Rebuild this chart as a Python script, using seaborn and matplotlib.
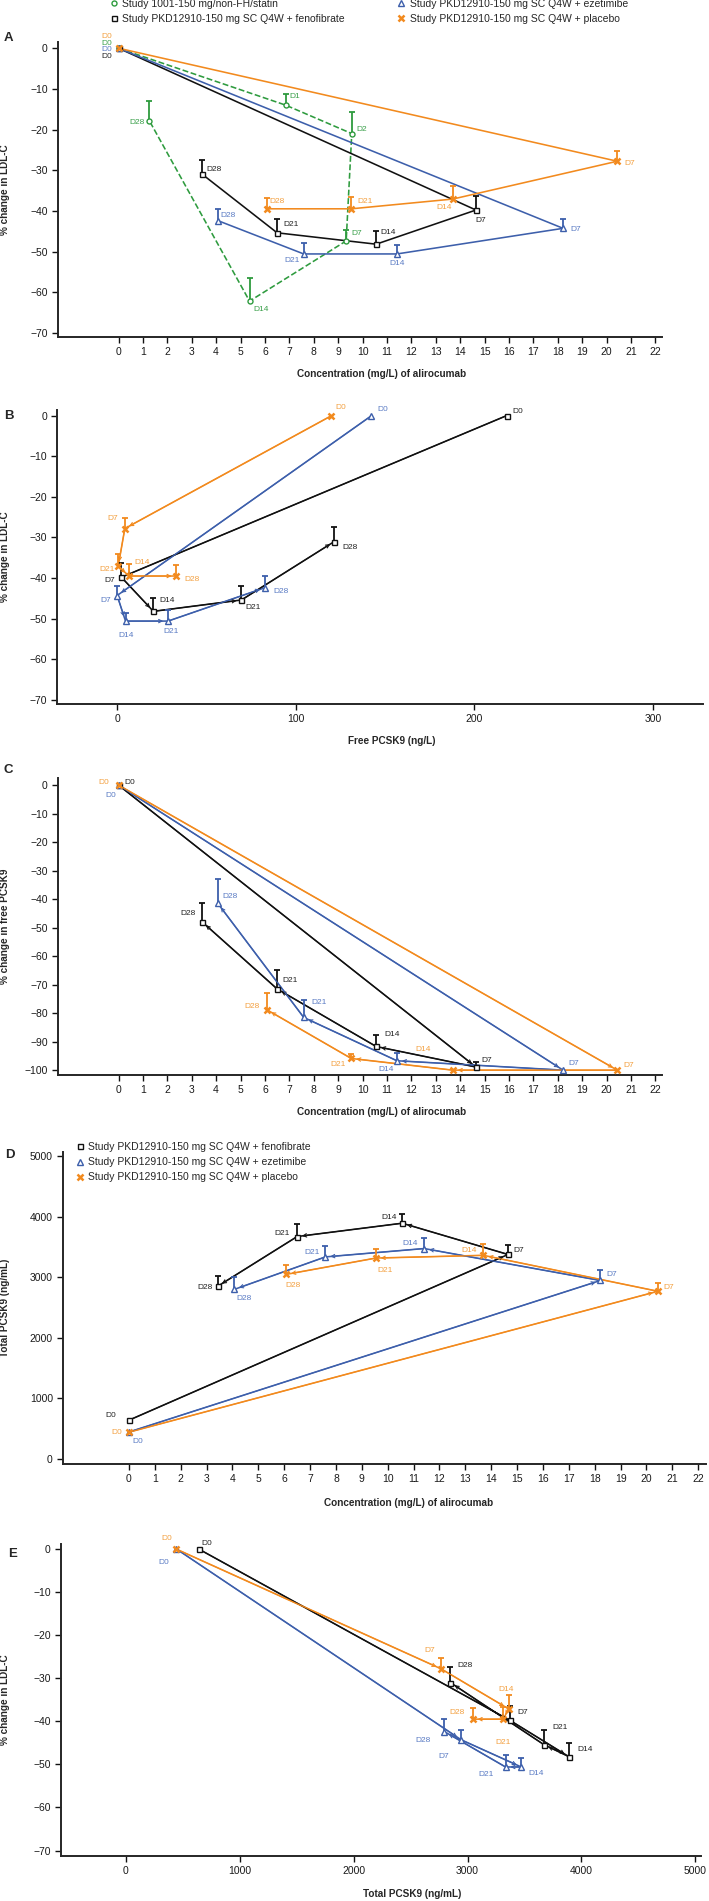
"""
Alirocumab PK/PD hysteresis panels (A-E)
"""

import numpy as np
import matplotlib
matplotlib.use("Agg")
import matplotlib.pyplot as plt
import seaborn as sns
from matplotlib.lines import Line2D

sns.set_style("ticks")
plt.rcParams["font.family"] = ["Liberation Sans", "DejaVu Sans"]
plt.rcParams.update({
    "axes.linewidth": 1.4,
    "xtick.major.width": 1.0,
    "ytick.major.width": 1.0,
    "xtick.major.size": 4.3,
    "ytick.major.size": 4.3,
    "xtick.labelsize": 7.5,
    "ytick.labelsize": 7.5,
    "xtick.major.pad": 3.0,
    "ytick.major.pad": 3.0,
})

W, H = 709, 1901

GREEN = "#2e9b3e"
BLACK = "#111111"
BLUE = "#3d5fab"
ORANGE = "#f28a1e"
LBL_COL = {"green": "#3aa04a", "black": "#222222", "blue": "#5a7bc4", "orange": "#f3a040"}

# ---------------------------------------------------------------------------
# DATA
# ---------------------------------------------------------------------------
DAYS = ["D0", "D7", "D14", "D21", "D28"]
DAYS_1001 = ["D0", "D1", "D2", "D7", "D14", "D28"]

# Study 1001 (panel A only)
CONC_1001 = [0, 6.85, 9.56, 9.33, 5.37, 1.26]
LDL_1001 = [0, -14.0, -21.0, -47.4, -62.2, -17.8]
LDL_1001_UP = [0, -11.3, -15.8, -44.8, -56.5, -12.9]

# Alirocumab concentration (mg/L), study PKD12910
CONC_FENO = [0, 14.65, 10.56, 6.5, 3.43]
CONC_EZE = [0, 18.22, 11.41, 7.59, 4.07]
CONC_PBO = [0, 20.44, 13.7, 9.54, 6.08]

# % change in LDL-C
LDL_FENO = [0, -39.8, -48.2, -45.4, -31.0]
LDL_FENO_UP = [0, -36.4, -45.0, -41.9, -27.4]
LDL_EZE = [0, -44.3, -50.6, -50.6, -42.4]
LDL_EZE_UP = [0, -41.9, -48.5, -47.8, -39.5]
LDL_PBO = [0, -27.8, -37.1, -39.5, -39.5]
LDL_PBO_UP = [0, -25.3, -34.0, -36.6, -36.8]

# Free PCSK9 (ng/L)
FREE_FENO = [218, 2.4, 20.3, 69.6, 121.6]
FREE_EZE = [142.4, 0.0, 4.7, 28.5, 82.6]
FREE_PBO = [120, 4.3, 0.6, 6.7, 33.2]

# % change in free PCSK9
PFREE_FENO = [0, -98.9, -91.7, -71.5, -48.0]
PFREE_FENO_UP = [0, -97.3, -87.6, -65.0, -41.5]
PFREE_EZE = [0, -100.0, -96.7, -81.5, -41.5]
PFREE_EZE_UP = [0, -100.0, -94.0, -75.3, -33.1]
PFREE_PBO = [0, -100.0, -100.0, -95.9, -78.8]
PFREE_PBO_UP = [0, -100.0, -100.0, -94.3, -72.9]

# Total PCSK9 (ng/mL)
TOT_FENO = [640, 3374, 3890, 3670, 2850]
TOT_FENO_UP = [640, 3527, 4049, 3885, 3022]
TOT_EZE = [445, 2945, 3472, 3334, 2798]
TOT_EZE_UP = [445, 3126, 3654, 3522, 3005]
TOT_PBO = [442, 2767, 3360, 3315, 3046]
TOT_PBO_UP = [442, 2896, 3544, 3462, 3198]

LEGEND_LABELS = {
    "green": "Study 1001-150 mg/non-FH/statin",
    "black": "Study PKD12910-150 mg SC Q4W + fenofibrate",
    "blue": "Study PKD12910-150 mg SC Q4W + ezetimibe",
    "orange": "Study PKD12910-150 mg SC Q4W + placebo",
}

# ---------------------------------------------------------------------------
# Day-label offsets (pixels, dy up) and alignment, per panel / series
# ---------------------------------------------------------------------------
OFF = {
    "A": {
        "green": [(-6, 5, "right"), (4, 9, "left"), (5, 4, "left"), (5, 7, "left"),
                  (12, -8, "center"), (-5, -2, "right")],
        "black": [(-6, -8.5, "right"), (5, -10, "center"), (4, 12, "left"),
                  (6, 8, "left"), (4, 5, "left")],
        "blue": [(-6, -1.7, "right"), (7, -1, "left"), (0, -10, "center"),
                 (-12, -7, "center"), (3, 5, "left")],
        "orange": [(-6, 11.5, "right"), (7, -2, "left"), (-9, -8, "center"),
                   (6, 7, "left"), (3, 7, "left")],
    },
    "B": {
        "black": [(6, 4, "left"), (-6, -3, "right"), (6, 11, "left"),
                  (4, -8, "left"), (8, -6, "left")],
        "blue": [(6, 6, "left"), (-6, -5, "right"), (1, -14, "center"),
                 (3, -10, "center"), (9, -4, "left")],
        "orange": [(4, 8, "left"), (-7, 10, "right"), (16, 4, "left"),
                   (-14, 7, "right"), (8, -3, "left")],
    },
    "C": {
        "black": [(6, 3, "left"), (5, 7, "left"), (8, 12, "left"),
                  (5, 8, "left"), (-7, 8, "right")],
        "blue": [(-8, -10, "center"), (5, 7, "left"), (-11, -9, "center"),
                 (8, 15, "left"), (5, 7, "left")],
        "orange": [(-9, 3, "right"), (6, 5, "left"), (-30, 21, "center"),
                   (-13, -6, "center"), (-7, 3, "right")],
    },
    "D": {
        "black": [(-13, 5, "right"), (5, 4, "left"), (-5, 6, "right"),
                  (-7, 3, "right"), (-5, -1, "right")],
        "blue": [(9, -9, "center"), (6, 6, "left"), (-6, 5, "right"),
                 (-6, 4, "right"), (10, -9, "center")],
        "orange": [(-7, 0, "right"), (6, 4, "left"), (-7, 5, "right"),
                   (9, -12, "center"), (7, -11, "center")],
    },
    "E": {
        "black": [(3, 6, "left"), (7, 8, "left"), (8, 7, "left"),
                  (9, 17, "left"), (7, 17, "left")],
        "blue": [(-13, -13, "center"), (-18, -17, "center"), (15, -7, "center"),
                 (-19, -8, "center"), (-21, -9, "center")],
        "orange": [(-9, 11, "center"), (-11, 18, "center"), (-2, 19, "center"),
                   (0, -23, "center"), (-16, 7, "center")],
    },
}

MARKERS = {
    "green": dict(marker="o", ms=3.6, mfc="white", mec=GREEN, mew=1.0, color=GREEN),
    "black": dict(marker="s", ms=3.6, mfc="white", mec=BLACK, mew=1.0, color=BLACK),
    "blue": dict(marker="^", ms=4.2, mfc="white", mec=BLUE, mew=1.0, color=BLUE),
    "orange": dict(marker="x", ms=4.2, mec=ORANGE, mew=1.8, color=ORANGE),
}
COLORS = {"green": GREEN, "black": BLACK, "blue": BLUE, "orange": ORANGE}


def add_axes_px(fig, left, top, right, bottom):
    return fig.add_axes([left / W, 1 - bottom / H, (right - left) / W, (bottom - top) / H])


def style_axes(ax, box, xlim, ylim, xticks, yticks, xlabel, ylabel, xlab_px, ylab_x=10):
    left, top, right, bottom = box
    ax.set_xlim(*xlim)
    ax.set_ylim(*ylim)
    ax.set_xticks(xticks)
    ax.set_yticks(yticks)
    sns.despine(ax=ax)
    ax.tick_params(colors=BLACK, labelcolor="#1a1a1a")
    ax.set_xlabel(xlabel, fontsize=7.2, fontweight="bold")
    ax.set_ylabel(ylabel, fontsize=7.2, fontweight="bold")
    lx, ly = xlab_px
    ax.xaxis.set_label_coords((lx - left) / (right - left), (bottom - ly + 4) / (bottom - top))
    ax.yaxis.set_label_coords((ylab_x - left) / (right - left), 0.5)


def draw_series(ax, x, y, up, days, key, offsets, arrows=True, dashed=False):
    c = COLORS[key]
    x = np.asarray(x, float)
    y = np.asarray(y, float)
    up = np.asarray(up, float)
    sns.lineplot(x=x, y=y, sort=False, estimator=None, color=c, lw=1.15,
                 linestyle="--" if dashed else "-", ax=ax, legend=False, zorder=2)
    if arrows:
        for i in range(1, len(x)):
            ax.annotate("", xy=(x[i], y[i]), xytext=(x[i - 1], y[i - 1]),
                        arrowprops=dict(arrowstyle="->", color=c, lw=0.8,
                                        shrinkA=0, shrinkB=3.5, mutation_scale=6),
                        zorder=3)
    span = abs(ax.get_ylim()[1] - ax.get_ylim()[0])
    m = (up - y) > span * 0.004
    ax.vlines(x[m], y[m], up[m], color=c, lw=1.3, zorder=3)
    ax.plot(x[m], up[m], ls="none", marker="_", ms=4, mew=1.3, color=c, zorder=3)
    ax.plot(x, y, ls="none", zorder=5, **MARKERS[key])
    for xi, yi, d, (dx, dy, ha) in zip(x, y, days, offsets):
        ax.annotate(d, (xi, yi), xytext=(dx, dy), textcoords="offset pixels",
                    ha=ha, va="center", fontsize=6, color=LBL_COL[key], zorder=6)


def legend_handle(key):
    return Line2D([], [], ls="none", **MARKERS[key])


def main():
    fig = plt.figure(figsize=(W / 100, H / 100), dpi=100)
    conc_ticks = list(range(0, 23))

    # ---------------- Panel A ----------------
    box = (58, 41.7, 662.4, 337.3)
    ax = add_axes_px(fig, *box)
    ax.set_xlim(-2.48, 22.29)
    ax.set_ylim(-71.1, 1.6)
    draw_series(ax, CONC_1001, LDL_1001, LDL_1001_UP, DAYS_1001, "green", OFF["A"]["green"],
                arrows=False, dashed=True)
    draw_series(ax, CONC_FENO, LDL_FENO, LDL_FENO_UP, DAYS, "black", OFF["A"]["black"], arrows=False)
    draw_series(ax, CONC_EZE, LDL_EZE, LDL_EZE_UP, DAYS, "blue", OFF["A"]["blue"], arrows=False)
    draw_series(ax, CONC_PBO, LDL_PBO, LDL_PBO_UP, DAYS, "orange", OFF["A"]["orange"], arrows=False)
    style_axes(ax, box, (-2.48, 22.29), (-71.1, 1.6), conc_ticks, range(-70, 1, 10),
               "Concentration (mg/L) of alirocumab", "% change in LDL-C", (381.7, 372.7))

    keys = ["green", "black", "blue", "orange"]
    fig.legend([legend_handle(k) for k in keys], [LEGEND_LABELS[k] for k in keys],
               ncol=2, loc="upper left", bbox_to_anchor=(110 / W, 1 + 1 / H),
               frameon=False, fontsize=7.5, handlelength=0.8, handletextpad=0.4,
               columnspacing=5.0, labelspacing=0.45, borderpad=0, borderaxespad=0)

    # ---------------- Panel B ----------------
    box = (57.3, 410, 703, 704.3)
    ax = add_axes_px(fig, *box)
    ax.set_xlim(-33.5, 328)
    ax.set_ylim(-71.1, 1.4)
    draw_series(ax, FREE_FENO, LDL_FENO, LDL_FENO_UP, DAYS, "black", OFF["B"]["black"])
    draw_series(ax, FREE_EZE, LDL_EZE, LDL_EZE_UP, DAYS, "blue", OFF["B"]["blue"])
    draw_series(ax, FREE_PBO, LDL_PBO, LDL_PBO_UP, DAYS, "orange", OFF["B"]["orange"])
    style_axes(ax, box, (-33.5, 328), (-71.1, 1.4), [0, 100, 200, 300], range(-70, 1, 10),
               "Free PCSK9 (ng/L)", "% change in LDL-C", (392, 740))

    # ---------------- Panel C ----------------
    box = (58, 778, 662.4, 1075)
    ax = add_axes_px(fig, *box)
    ax.set_xlim(-2.48, 22.29)
    ax.set_ylim(-101.7, 2.5)
    draw_series(ax, CONC_FENO, PFREE_FENO, PFREE_FENO_UP, DAYS, "black", OFF["C"]["black"])
    draw_series(ax, CONC_EZE, PFREE_EZE, PFREE_EZE_UP, DAYS, "blue", OFF["C"]["blue"])
    draw_series(ax, CONC_PBO, PFREE_PBO, PFREE_PBO_UP, DAYS, "orange", OFF["C"]["orange"])
    style_axes(ax, box, (-2.48, 22.29), (-101.7, 2.5), conc_ticks, range(-100, 1, 10),
               "Concentration (mg/L) of alirocumab", "% change in free PCSK9", (381.7, 1110.7))

    # ---------------- Panel D ----------------
    box = (63, 1151.7, 706, 1464)
    ax = add_axes_px(fig, *box)
    ax.set_xlim(-2.55, 22.3)
    ax.set_ylim(-83, 5070)
    draw_series(ax, CONC_FENO, TOT_FENO, TOT_FENO_UP, DAYS, "black", OFF["D"]["black"])
    draw_series(ax, CONC_EZE, TOT_EZE, TOT_EZE_UP, DAYS, "blue", OFF["D"]["blue"])
    draw_series(ax, CONC_PBO, TOT_PBO, TOT_PBO_UP, DAYS, "orange", OFF["D"]["orange"])
    style_axes(ax, box, (-2.55, 22.3), (-83, 5070), conc_ticks, range(0, 5001, 1000),
               "Concentration (mg/L) of alirocumab", "Total PCSK9 (ng/mL)", (408.8, 1501.7))
    keys = ["black", "blue", "orange"]
    fig.legend([legend_handle(k) for k in keys], [LEGEND_LABELS[k] for k in keys],
               ncol=1, loc="upper left", bbox_to_anchor=(76 / W, 1 - 1142 / H),
               frameon=False, fontsize=7.5, handlelength=0.8, handletextpad=0.4,
               labelspacing=0.5, borderpad=0, borderaxespad=0)

    # ---------------- Panel E ----------------
    box = (61, 1544.3, 701, 1855.7)
    ax = add_axes_px(fig, *box)
    ax.set_xlim(-569, 5050)
    ax.set_ylim(-71.2, 1.1)
    draw_series(ax, TOT_FENO, LDL_FENO, LDL_FENO_UP, DAYS, "black", OFF["E"]["black"])
    draw_series(ax, TOT_EZE, LDL_EZE, LDL_EZE_UP, DAYS, "blue", OFF["E"]["blue"])
    draw_series(ax, TOT_PBO, LDL_PBO, LDL_PBO_UP, DAYS, "orange", OFF["E"]["orange"])
    style_axes(ax, box, (-569, 5050), (-71.2, 1.1), range(0, 5001, 1000), range(-70, 1, 10),
               "Total PCSK9 (ng/mL)", "% change in LDL-C", (412, 1893))

    # panel letters
    for letter, (px, py) in {"A": (4, 38), "B": (4, 416), "C": (4, 770),
                             "D": (5, 1155), "E": (8, 1554)}.items():
        fig.text(px / W, 1 - py / H, letter, fontsize=9.5, fontweight="bold",
                 ha="left", va="center")

    fig.savefig("out.png", dpi=100)
    plt.close(fig)


if __name__ == "__main__":
    main()
